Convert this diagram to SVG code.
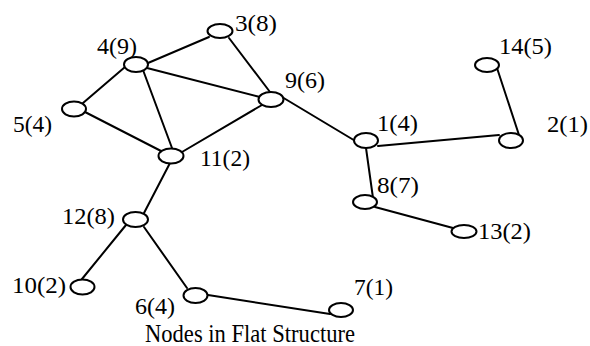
<svg xmlns="http://www.w3.org/2000/svg" width="590" height="346" viewBox="0 0 590 346">
<style>
.e{stroke:#000;stroke-width:2;fill:none;stroke-linecap:round}
.n{fill:#fff;stroke:#000;stroke-width:2}
.t{font-family:"Liberation Serif","Times New Roman",serif;font-size:23px;fill:#000}
.title{font-family:"Liberation Serif","Times New Roman",serif;font-size:25px;fill:#000}
</style>
<rect width="590" height="346" fill="#fff"/>
<g id="edges">
<line class="e" x1="148" y1="63" x2="209" y2="37"/>
<line class="e" x1="125" y1="67" x2="83" y2="103"/>
<line class="e" x1="147" y1="68" x2="260" y2="97"/>
<line class="e" x1="143" y1="70" x2="172" y2="148"/>
<line class="e" x1="229" y1="38" x2="270" y2="92"/>
<line class="e" x1="85" y1="112" x2="163" y2="152"/>
<line class="e" x1="182" y1="152" x2="262" y2="105"/>
<line class="e" x1="282" y1="97" x2="357" y2="142"/>
<line class="e" x1="170" y1="163" x2="144" y2="213"/>
<line class="e" x1="126" y1="225" x2="82" y2="279"/>
<line class="e" x1="144" y1="227" x2="187" y2="288"/>
<line class="e" x1="208" y1="295" x2="330" y2="314"/>
<line class="e" x1="378" y1="146" x2="499" y2="135"/>
<line class="e" x1="519" y1="135" x2="497" y2="68"/>
<line class="e" x1="366" y1="148" x2="373" y2="198"/>
<line class="e" x1="375" y1="207" x2="453" y2="228"/>
</g>
<g id="n1"><ellipse class="n" cx="366" cy="140.5" rx="12" ry="7.5"/><text class="t" x="377" y="131" textLength="41" lengthAdjust="spacingAndGlyphs">1(4)</text></g>
<g id="n2"><ellipse class="n" cx="511" cy="140.5" rx="12" ry="7.5"/><text class="t" x="547" y="132" textLength="41" lengthAdjust="spacingAndGlyphs">2(1)</text></g>
<g id="n3"><ellipse class="n" cx="220" cy="31" rx="12.5" ry="7"/><text class="t" x="235" y="31" textLength="42" lengthAdjust="spacingAndGlyphs">3(8)</text></g>
<g id="n4"><ellipse class="n" cx="136" cy="64.5" rx="12" ry="7.5"/><text class="t" x="97" y="54" textLength="40" lengthAdjust="spacingAndGlyphs">4(9)</text></g>
<g id="n5"><ellipse class="n" cx="74" cy="109" rx="12" ry="7.5"/><text class="t" x="13" y="132" textLength="39" lengthAdjust="spacingAndGlyphs">5(4)</text></g>
<g id="n6"><ellipse class="n" cx="195.5" cy="295.5" rx="12" ry="7.5"/><text class="t" x="135" y="314" textLength="40" lengthAdjust="spacingAndGlyphs">6(4)</text></g>
<g id="n7"><ellipse class="n" cx="341" cy="310" rx="12" ry="7"/><text class="t" x="354" y="295" textLength="39" lengthAdjust="spacingAndGlyphs">7(1)</text></g>
<g id="n8"><ellipse class="n" cx="365" cy="202" rx="12" ry="7"/><text class="t" x="377" y="193" textLength="42" lengthAdjust="spacingAndGlyphs">8(7)</text></g>
<g id="n9"><ellipse class="n" cx="271" cy="99.5" rx="12.5" ry="7.5"/><text class="t" x="285" y="88" textLength="40" lengthAdjust="spacingAndGlyphs">9(6)</text></g>
<g id="n10"><ellipse class="n" cx="82.5" cy="287" rx="12" ry="7.5"/><text class="t" x="12" y="293" textLength="54" lengthAdjust="spacingAndGlyphs">10(2)</text></g>
<g id="n11"><ellipse class="n" cx="171" cy="156" rx="12.5" ry="7.5"/><text class="t" x="200" y="166" textLength="50" lengthAdjust="spacingAndGlyphs">11(2)</text></g>
<g id="n12"><ellipse class="n" cx="135.5" cy="219.5" rx="12.5" ry="7.5"/><text class="t" x="62" y="224" textLength="53" lengthAdjust="spacingAndGlyphs">12(8)</text></g>
<g id="n13"><ellipse class="n" cx="464" cy="231.5" rx="12.5" ry="6.5"/><text class="t" x="478" y="239" textLength="53" lengthAdjust="spacingAndGlyphs">13(2)</text></g>
<g id="n14"><ellipse class="n" cx="487" cy="65" rx="12" ry="7"/><text class="t" x="499" y="54" textLength="53" lengthAdjust="spacingAndGlyphs">14(5)</text></g>
<text class="title" x="145" y="342" textLength="210" lengthAdjust="spacingAndGlyphs">Nodes in Flat Structure</text>
</svg>
